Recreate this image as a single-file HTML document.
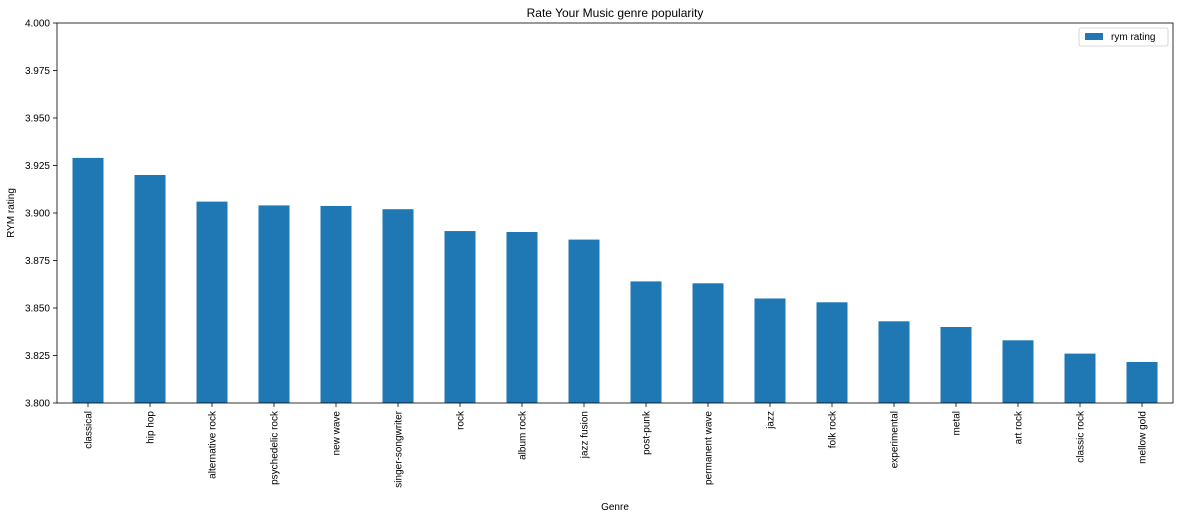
<!DOCTYPE html>
<html><head><meta charset="utf-8"><style>
body{margin:0;background:#fff;font-family:"Liberation Sans","DejaVu Sans",sans-serif;}
svg text{font-family:"Liberation Sans","DejaVu Sans",sans-serif;fill:#000;}
</style></head><body>
<svg id="chart" width="1180" height="519" xmlns="http://www.w3.org/2000/svg"></svg>
<script>
const categories=["classical","hip hop","alternative rock","psychedelic rock","new wave","singer-songwriter","rock","album rock","jazz fusion","post-punk","permanent wave","jazz","folk rock","experimental","metal","art rock","classic rock","mellow gold"];
const ratings=[3.929,3.920,3.906,3.904,3.9037,3.902,3.8905,3.890,3.886,3.864,3.863,3.855,3.853,3.843,3.840,3.833,3.826,3.8216];
const yTicks=[3.800,3.825,3.850,3.875,3.900,3.925,3.950,3.975,4.000];
const yMin=3.8,yMax=4.0;
const L=57,R=1173,T=23,B=403;
const svg=document.getElementById('chart');
const NS='http://www.w3.org/2000/svg';
function el(t,a,p){const e=document.createElementNS(NS,t);for(const k in a)e.setAttribute(k,a[k]);(p||svg).appendChild(e);return e;}
const y=v=>B-(v-yMin)/(yMax-yMin)*(B-T);
const step=(R-L)/categories.length;
const x=i=>L+step*(i+0.5);
const bw=step*0.5;
ratings.forEach((v,i)=>{
  const r=el('rect',{x:x(i)-bw/2,y:y(v),width:bw,height:B-y(v),fill:'#1f77b4'});
  
  
  el('line',{x1:x(i),x2:x(i),y1:B,y2:B+4,stroke:'#000','stroke-width':0.8});
  const t=el('text',{x:0,y:0,'font-size':10,'text-anchor':'end',transform:`translate(${x(i)+3.5},${B+8}) rotate(-90)`});
  t.textContent=categories[i];
  
  
});
yTicks.forEach(v=>{
  el('line',{x1:L-4,x2:L,y1:y(v),y2:y(v),stroke:'#000','stroke-width':0.8});
  const t=el('text',{x:L-7,y:y(v)+3.5,'font-size':10,'text-anchor':'end'});
  t.textContent=v.toFixed(3);
  
  
});
const f=el('rect',{x:L,y:T,width:R-L,height:B-T,fill:'none',stroke:'#000','stroke-width':0.8});


let t=el('text',{x:(L+R)/2,y:17,'font-size':12,'text-anchor':'middle'});t.textContent='Rate Your Music genre popularity';

t=el('text',{x:(L+R)/2,y:510,'font-size':10,'text-anchor':'middle'});t.textContent='Genre';

t=el('text',{x:0,y:0,'font-size':10,'text-anchor':'middle',transform:`translate(14,${(T+B)/2}) rotate(-90)`});t.textContent='RYM rating';

const g=el('g',{});

el('rect',{x:1079,y:28,width:89,height:18,rx:2,fill:'#fff',stroke:'#ccc','stroke-width':0.8},g);
el('rect',{x:1085,y:33,width:18,height:7,fill:'#1f77b4'},g);
t=el('text',{x:1111,y:40,'font-size':10},g);t.textContent='rym rating';

</script>
</body></html>
